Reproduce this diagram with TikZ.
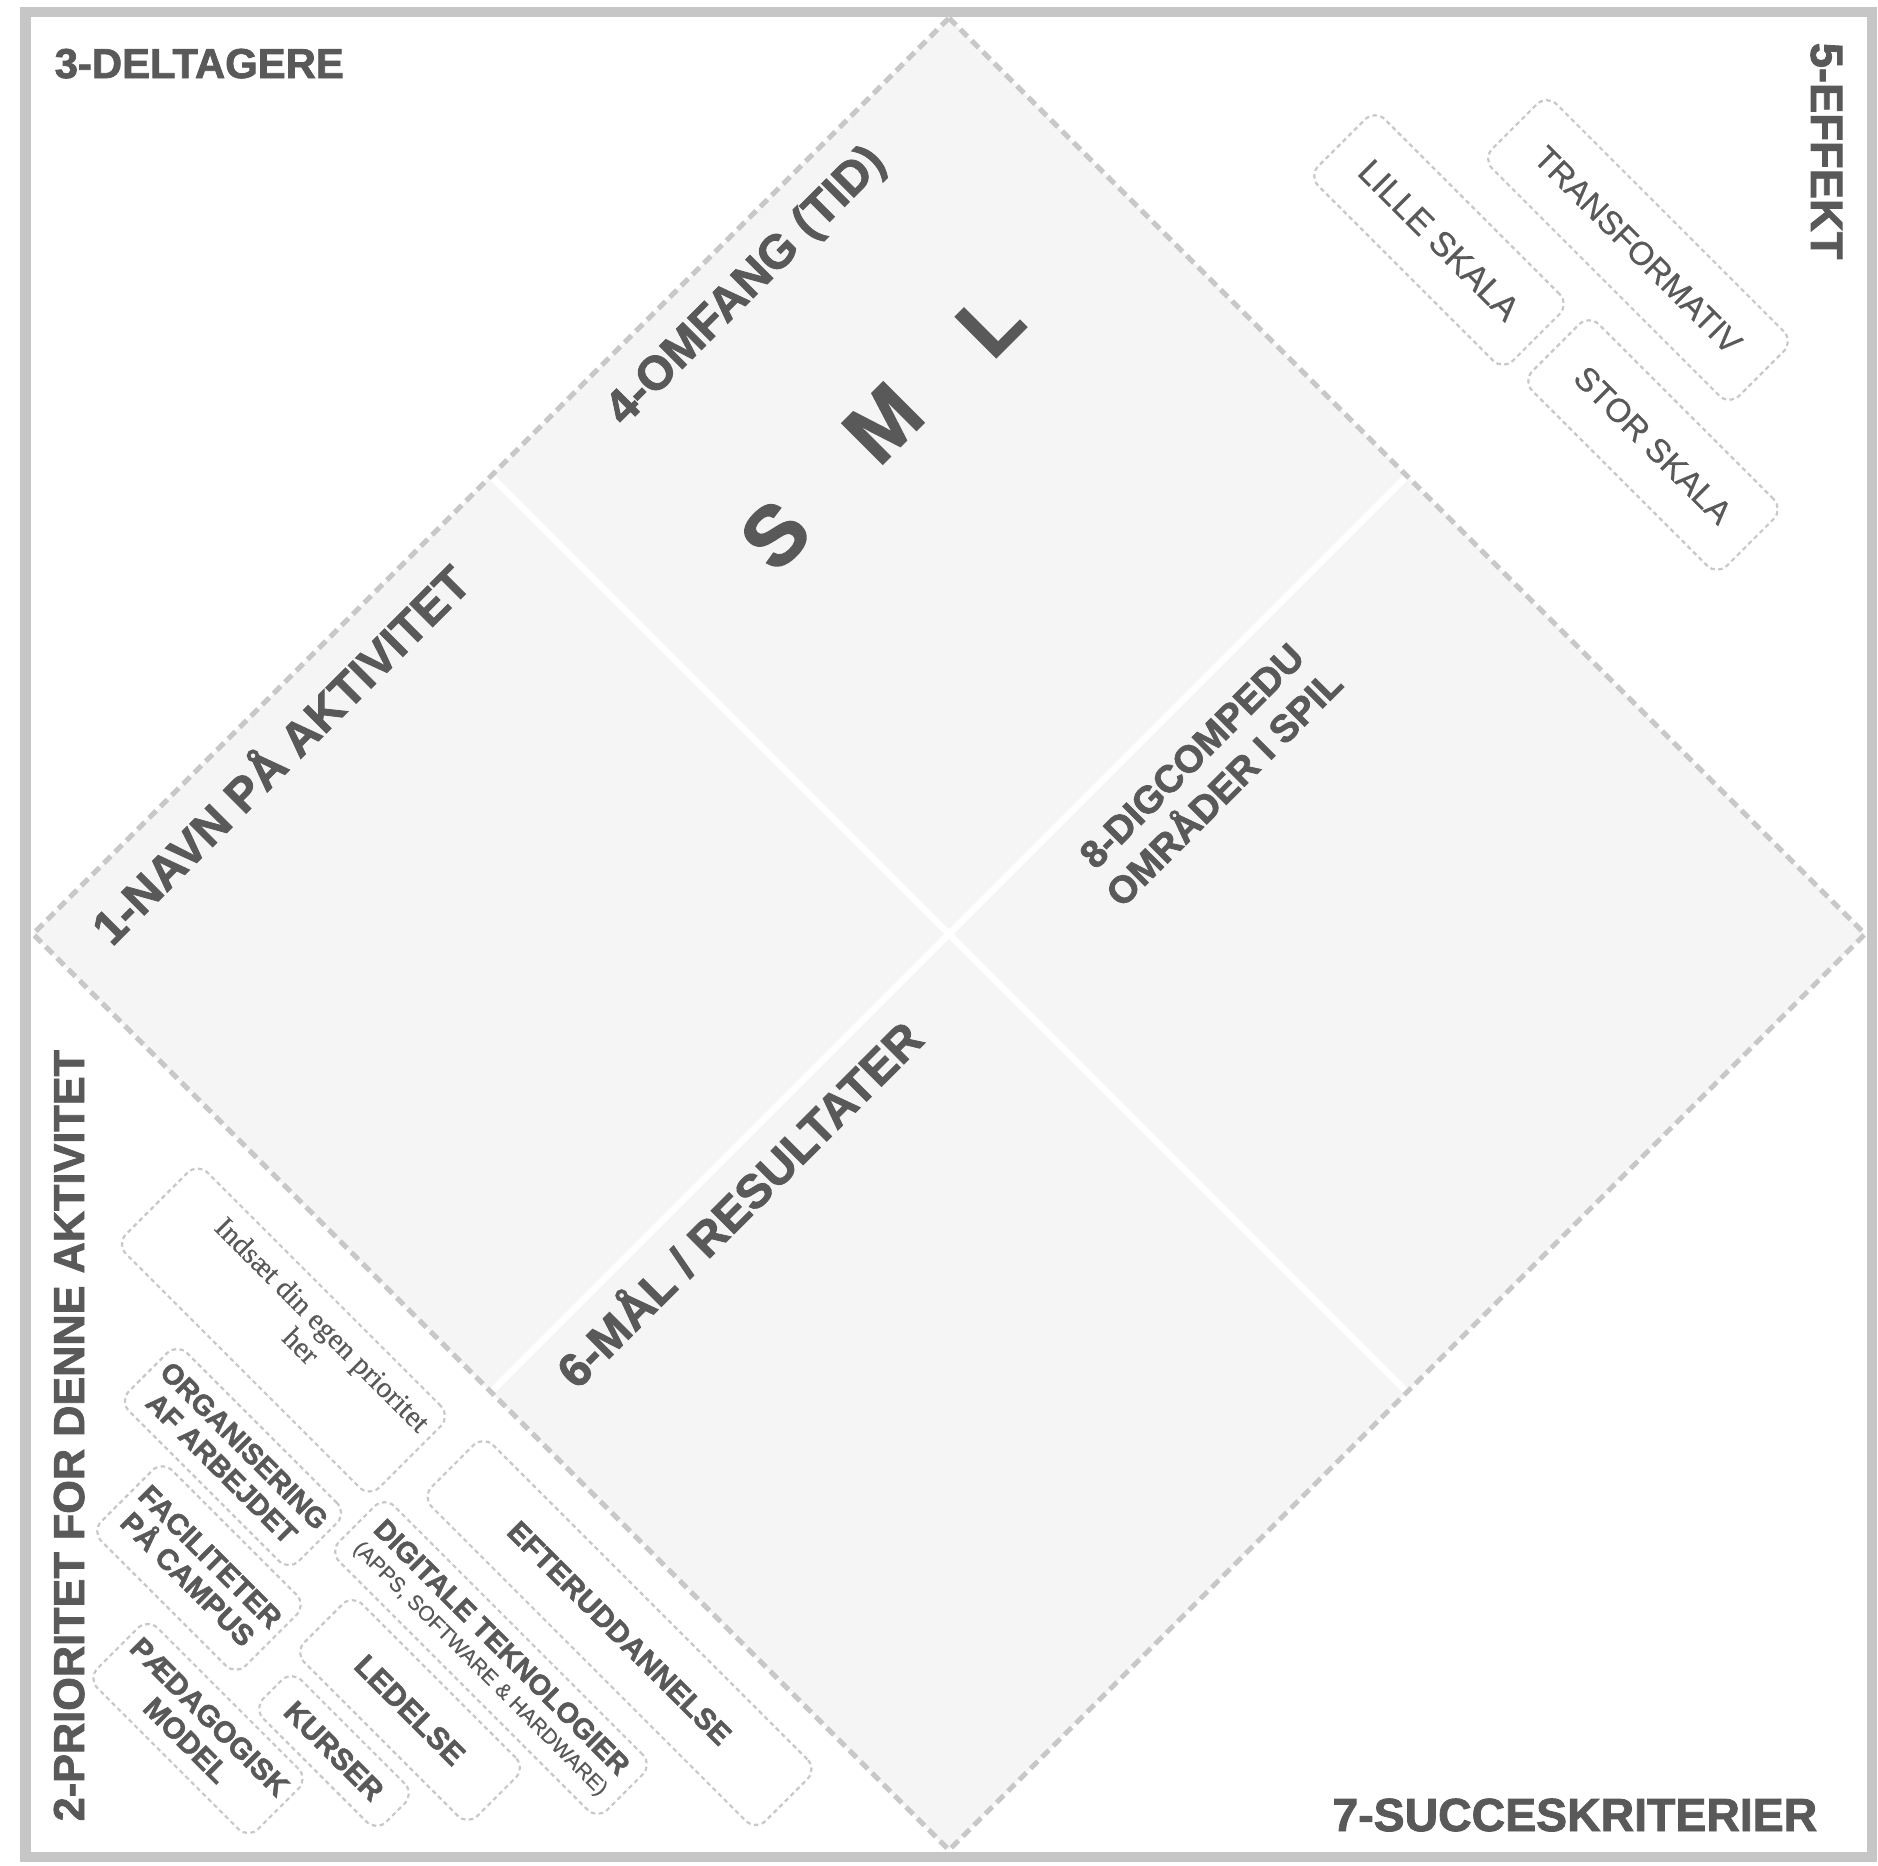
\documentclass[tikz,border=0pt]{standalone}
\usepackage{fontspec}
\setmainfont{Liberation Sans}[UprightFeatures={FakeBold=0.6}, BoldFeatures={FakeBold=1.8}]
\newfontfamily\serifface{Liberation Serif}[UprightFeatures={FakeBold=0.4}]
\definecolor{txt}{HTML}{595959}
\definecolor{framec}{HTML}{C6C6C6}
\definecolor{dashc}{HTML}{C8C8C8}
\definecolor{fillc}{HTML}{F5F5F5}
\definecolor{boxc}{HTML}{C8C8C8}
\newcommand\fsz[2]{\fontsize{#1pt}{#2pt}\selectfont}
\begin{document}
\begin{tikzpicture}[x=0.01cm,y=-0.01cm,
  lbl/.style={text=txt, inner sep=0pt},
  optbox/.style={draw=boxc, line width=0.022cm, dash pattern=on 0.045cm off 0.035cm,
    rounded corners=0.14cm, inner sep=0pt, align=center, text=txt, rotate=-45},
  diag/.style={lbl, rotate=45, font=\bfseries\fsz{13.5}{16}}]
\useasboundingbox (0,0) rectangle (1878,1865);
% outer frame
\draw[framec, line width=0.1cm] (25.5,12) rectangle (1872,1857);
% diamond
\coordinate (dT) at (949,18);
\coordinate (dR) at (1865,934);
\coordinate (dB) at (949,1850);
\coordinate (dL) at (33,934);
\coordinate (mNW) at (491,476);
\coordinate (mSE) at (1407,1392);
\coordinate (mNE) at (1407,476);
\coordinate (mSW) at (491,1392);
\fill[fillc] (dT) -- (dR) -- (dB) -- (dL) -- cycle;
\draw[white, line width=0.065cm] (mNW) -- (mSE);
\draw[white, line width=0.065cm] (mNE) -- (mSW);
\draw[dashc, line width=0.05cm, dash pattern=on 0.1cm off 0.06cm] (dT) -- (dR) -- (dB) -- (dL) -- cycle;
% corner titles
\node[lbl, font=\bfseries\fsz{11.9}{14}, anchor=base west] (deltagere) at (54,78) {3-DELTAGERE};
\node[lbl, font=\bfseries\fsz{13.2}{16}, anchor=base east] (succes) at (1818,1831) {7-SUCCESKRITERIER};
\node[lbl, font=\bfseries\fsz{12.9}{15}, anchor=base west, rotate=-90] (effekt) at (1811,42) {5-EFFEKT};
\node[lbl, font=\bfseries\fsz{12.3}{15}, anchor=base west, rotate=90] (prioritet) at (84,1822) {2-PRIORITET FOR DENNE AKTIVITET};
% diamond titles
\node[diag] (omfang) at (747,287) {4-OMFANG (TID)};
\node[diag] (navn) at (278,752) {1-NAVN PÅ AKTIVITET};
\node[diag] (maal) at (737,1202) {6-MÅL / RESULTATER};
\node[diag, align=center, font=\bfseries\fsz{10.9}{13}] (digcomp) at (1208,772) {8-DIGCOMPEDU\\OMRÅDER I SPIL};
\node[diag, font=\bfseries\fsz{23.8}{28}] (sizeS) at (775,535) {S};
\node[diag, font=\bfseries\fsz{23.8}{28}] (sizeM) at (883,423) {M};
\node[diag, font=\bfseries\fsz{23.8}{28}] (sizeL) at (990,323) {L};
% effect boxes
\node[optbox, minimum width=2.75cm, minimum height=0.94cm, font=\fsz{9.8}{12}] (lille) at (1439,240) {LILLE SKALA};
\node[optbox, minimum width=3.49cm, minimum height=0.91cm, font=\fsz{9.3}{12}] (transf) at (1638,250) {TRANSFORMATIV};
\node[optbox, minimum width=2.75cm, minimum height=0.94cm, font=\fsz{9.4}{12}] (stor) at (1653,445) {STOR SKALA};
% priority boxes
\node[optbox, minimum width=3.58cm, minimum height=1.15cm] (egen) at (283.5,1330) {};
\node[lbl, font=\serifface\fsz{8.4}{8.6}, align=center, rotate=-45] (egentxt) at (312,1335) {Indsæt din egen prioritet\\her};
\node[optbox, minimum width=2.40cm, minimum height=0.82cm, font=\bfseries\fsz{8.1}{9.1}] (org) at (233,1457) {ORGANISERING\\AF ARBEJDET};
\node[optbox, minimum width=2.04cm, minimum height=1.0cm, font=\bfseries\fsz{8.3}{9.1}] (facil) at (199,1568) {FACILITETER\\PÅ CAMPUS};
\node[optbox, minimum width=2.27cm, minimum height=0.85cm, font=\bfseries\fsz{8.4}{9.4}] (paed) at (198,1728.5) {PÆDAGOGISK\\MODEL};
\node[optbox, minimum width=1.74cm, minimum height=0.54cm, font=\bfseries\fsz{8.5}{10}] (kurser) at (334,1751) {KURSER};
\node[optbox, minimum width=2.45cm, minimum height=0.82cm, font=\bfseries\fsz{8.7}{10}] (ledelse) at (410,1710) {LEDELSE};
\node[optbox, minimum width=3.79cm, minimum height=0.78cm, font=\fsz{6}{7.7}] (digital) at (491,1658) {{\bfseries\fsz{8.1}{9}DIGITALE TEKNOLOGIER}\\(APPS, SOFTWARE \& HARDWARE)};
\node[optbox, minimum width=4.72cm, minimum height=0.87cm, font=\bfseries\fsz{8.4}{10}] (efter) at (619.5,1633) {EFTERUDDANNELSE};
\end{tikzpicture}
\end{document}
